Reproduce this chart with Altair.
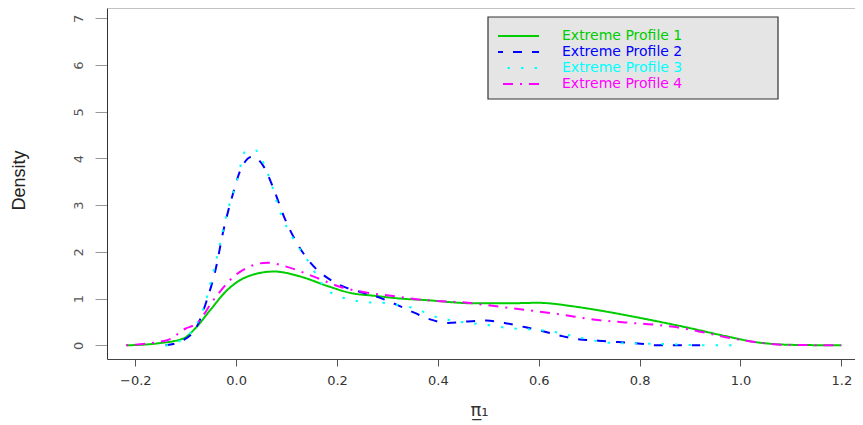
import altair as alt
import pandas as pd

# ---- data ----
series_names = ["Extreme Profile 1", "Extreme Profile 2", "Extreme Profile 3", "Extreme Profile 4"]
series_colors = ["#00CD00", "#0000FF", "#00FFFF", "#FF00FF"]
series_dashes = [[1, 0], [9, 10], [2.5, 11], [2, 7, 10, 7]]

p1_x = [-0.218, -0.157, -0.104, -0.078, -0.051, -0.018, 0.022, 0.075, 0.128, 0.181, 0.227,
        0.274, 0.327, 0.373, 0.472, 0.539, 0.598, 0.671, 0.724, 0.804, 0.903, 0.969, 1.036,
        1.102, 1.2]
p1_y = [0.0, 0.04, 0.15, 0.40, 0.76, 1.18, 1.47, 1.58, 1.47, 1.27, 1.12,
        1.06, 1.0, 0.97, 0.90, 0.90, 0.91, 0.83, 0.74, 0.58, 0.36, 0.20, 0.06,
        0.01, 0.0]

p2_x = [-0.14, -0.105, -0.078, -0.058, -0.041, -0.025, -0.008, 0.0085, 0.032, 0.055, 0.075,
        0.095, 0.121, 0.148, 0.187, 0.214, 0.25, 0.287, 0.32, 0.353, 0.383, 0.42, 0.459,
        0.496, 0.532, 0.572, 0.605, 0.645, 0.678, 0.718, 0.757, 0.797, 0.837, 0.92]
p2_y = [0.0, 0.11, 0.40, 0.97, 1.61, 2.47, 3.18, 3.75, 4.04, 3.82, 3.33,
        2.75, 2.18, 1.76, 1.40, 1.25, 1.13, 1.01, 0.86, 0.70, 0.56, 0.48, 0.51,
        0.53, 0.48, 0.39, 0.31, 0.20, 0.13, 0.10, 0.07, 0.04, 0.0, 0.0]

p3_x = [-0.14, -0.114, -0.071, -0.041, -0.018, 0.002, 0.018, 0.038, 0.048, 0.065, 0.088,
        0.115, 0.141, 0.181, 0.207, 0.234, 0.26, 0.29, 0.316, 0.347, 0.37, 0.396, 0.423,
        0.452, 0.479, 0.509, 0.539, 0.565, 0.595, 0.622, 0.651, 0.678, 0.705, 0.728, 0.785,
        0.845, 0.93, 0.996]
p3_y = [0.0, 0.08, 0.61, 1.76, 2.83, 3.54, 4.15, 4.18, 4.04, 3.61, 2.83,
        2.25, 1.83, 1.18, 1.04, 0.96, 0.92, 0.91, 0.87, 0.81, 0.72, 0.61, 0.54,
        0.49, 0.46, 0.42, 0.37, 0.35, 0.33, 0.30, 0.24, 0.17, 0.12, 0.06, 0.04,
        0.03, 0.0, 0.0]

p4_x = [-0.218, -0.137, -0.1, -0.078, -0.045, -0.005, 0.035, 0.062, 0.101, 0.154, 0.207,
        0.247, 0.307, 0.373, 0.459, 0.512, 0.572, 0.638, 0.718, 0.771, 0.83, 0.877, 0.93,
        0.983, 1.036, 1.089, 1.2]
p4_y = [0.0, 0.11, 0.36, 0.47, 0.97, 1.47, 1.72, 1.77, 1.68, 1.47, 1.25,
        1.15, 1.06, 0.97, 0.91, 0.84, 0.76, 0.67, 0.54, 0.49, 0.44, 0.38, 0.27,
        0.15, 0.06, 0.01, 0.0]

x_ticks = [-0.2, 0.0, 0.2, 0.4, 0.6, 0.8, 1.0, 1.2]
y_ticks = [0, 1, 2, 3, 4, 5, 6, 7]

# ---- build table ----
rows = []
for name, xs, ys in zip(series_names, [p1_x, p2_x, p3_x, p4_x], [p1_y, p2_y, p3_y, p4_y]):
    for xv, yv in zip(xs, ys):
        rows.append({"profile": name, "x": xv, "y": yv})
df = pd.DataFrame(rows)

W, H = 748, 351
LX, LY, LW, LH = 381, 9, 290, 82

legend = alt.Legend(
    title=None,
    orient="none",
    legendX=LX,
    legendY=LY + 1,
    padding=10,
    symbolType="stroke",
    symbolSize=2025,
    symbolStrokeWidth=2,
    symbolOffset=-5,
    clipHeight=16,
    rowPadding=0,
    labelFont="DejaVu Sans",
    labelFontSize=14,
    labelOffset=22,
    labelLimit=400,
    labelColor={"expr": "scale('color', datum.value)"},
)

lines = alt.Chart(df).mark_line(strokeWidth=2, interpolate="monotone", clip=True).encode(
    x=alt.X(
        "x:Q",
        scale=alt.Scale(domain=[-0.2561, 1.2271], nice=False, zero=False),
        axis=alt.Axis(
            values=x_ticks, format=".1f", title="π̲₁",
            titleX=372, titleY=51, titleAlign="center", titleBaseline="middle",
            titleFont="DejaVu Sans", titleFontSize=18, titleFontWeight="normal",
            titleColor="#333333",
            domainColor="#444444", tickColor="#555555", tickSize=7,
            labelFont="DejaVu Sans", labelFontSize=13, labelColor="#333333",
            labelPadding=8, grid=False,
        ),
    ),
    y=alt.Y(
        "y:Q",
        scale=alt.Scale(domain=[-0.293, 7.222], nice=False, zero=False),
        axis=alt.Axis(
            values=y_ticks, format="d", title="Density",
            titleX=-88, titleY=172, titleAngle=270, titleAlign="center",
            titleBaseline="middle", titleFont="Liberation Sans", titleFontSize=18,
            titleFontWeight="normal", titleColor="#222222",
            domainColor="#333333", tickColor="#999999", tickSize=12,
            labelAngle=270, labelAlign="center", labelBaseline="bottom",
            labelFont="DejaVu Sans", labelFontSize=13, labelColor="#555555",
            labelPadding=10, grid=False,
        ),
    ),
    color=alt.Color(
        "profile:N",
        scale=alt.Scale(domain=series_names, range=series_colors),
        legend=legend,
    ),
    strokeDash=alt.StrokeDash(
        "profile:N",
        scale=alt.Scale(domain=series_names, range=series_dashes),
        legend=legend,
    ),
)

frame_df = pd.DataFrame({"f": [0]})
top_frame = alt.Chart(frame_df).mark_rule(color="#888888", strokeWidth=1).encode(
    y=alt.value(0), x=alt.value(0), x2=alt.value(W)
)
legend_box = alt.Chart(frame_df).mark_rect(
    fill="#E5E5E5", stroke="#333333", strokeWidth=1.2
).encode(
    x=alt.value(LX), x2=alt.value(LX + LW), y=alt.value(LY), y2=alt.value(LY + LH)
)

chart = alt.layer(lines, top_frame, legend_box).properties(
    width=W,
    height=H,
    autosize="none",
    padding={"left": 99, "top": 0, "right": 0, "bottom": 66},
    background="white",
).configure_view(strokeWidth=0)

chart.save("out.html", embed_options={"renderer": "svg", "actions": False})
